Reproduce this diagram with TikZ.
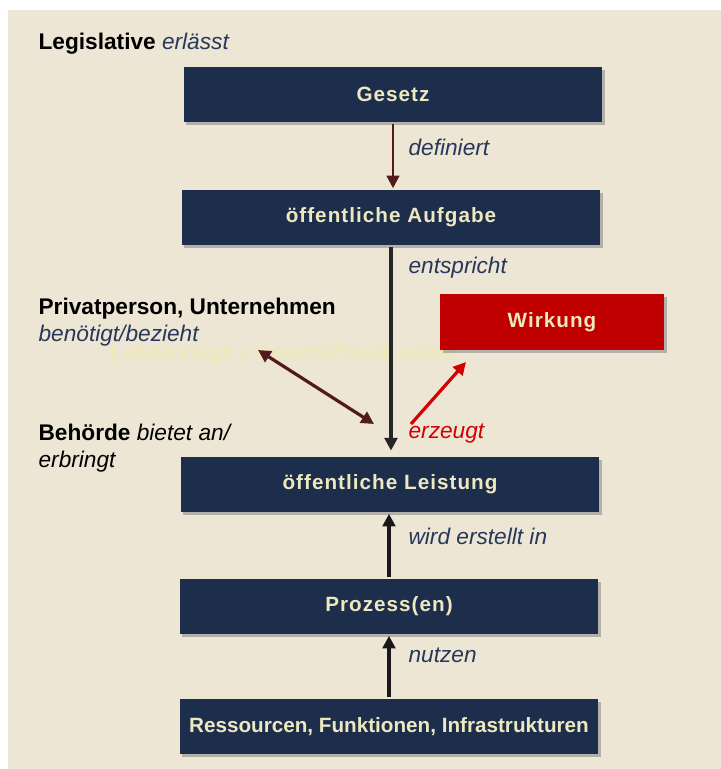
\documentclass[tikz,border=0pt]{standalone}
\usepackage{fontspec}
\setmainfont{Liberation Sans}
\usetikzlibrary{arrows.meta,positioning,shadows}

\definecolor{paper}{RGB}{237,230,213}
\definecolor{navy}{RGB}{29,46,77}
\definecolor{cream}{RGB}{238,232,190}
\definecolor{wirkred}{RGB}{192,0,0}
\definecolor{arrred}{RGB}{210,0,0}
\definecolor{maroon}{RGB}{82,26,26}
\definecolor{inkblue}{RGB}{40,56,90}
\definecolor{faint}{RGB}{237,233,186}

\begin{document}
\begin{tikzpicture}[x=0.75pt,y=-0.75pt,>={Triangle[length=9.5pt,width=9.5pt]},
line width=2.4pt]
\tikzstyle{box}=[fill=navy,text=cream,font=\fontsize{15.5}{18}\selectfont\bfseries\addfontfeature{LetterSpace=5},minimum width=314pt,minimum height=41.5pt,inner sep=0pt,drop shadow={shadow xshift=2pt,shadow yshift=-2pt,fill=black!45,opacity=0.6}]
\tikzstyle{lbl}=[anchor=west,inner sep=0pt,font=\fontsize{17}{20}\selectfont\itshape,text=inkblue]
\tikzstyle{head}=[anchor=west,inner sep=0pt,font=\fontsize{17}{20}\selectfont\bfseries,text=black]

% page and panel
\useasboundingbox (0,0) rectangle (721,769);
\fill[paper] (8,10) rectangle (721,769);

% faint background text
\node[font=\fontsize{17}{20}\selectfont\bfseries,text=faint] (lage) at (284,355) {Lebenslage / Geschäftssituation};

% boxes
\node[box] (gesetz)     at (393,94.5) {Gesetz};
\node[box] (aufgabe)    at (391,217.5) {öffentliche Aufgabe};
\node[box,fill=wirkred,minimum width=168pt,minimum height=42pt] (wirkung) at (552,322) {Wirkung};
\node[box] (leistung)   at (390,484.5) {öffentliche Leistung};
\node[box] (prozess)    at (389,606.5) {Prozess(en)};
\node[box,font=\fontsize{15.5}{18}\selectfont\bfseries] (ressourcen) at (389,726.5) {Ressourcen, Funktionen, Infrastrukturen};

% side texts
\node[head] (legis) at (37,44) {Legislative \textit{\color{inkblue}\mdseries erlässt}};
\node[head] (privat) at (37,309) {Privatperson, Unternehmen};
\node[lbl] (bezieht) at (37,336) {benötigt/bezieht};
\node[head,align=left,font=\fontsize{17}{20.25}\selectfont] (behoerde) at (37,448)
  {\textbf{Behörde} \textit{bietet an/}\\\textit{erbringt}};

% arrow labels
\node[lbl] (definiert) at (407,147) {definiert};
\node[lbl] (entspricht) at (407,268) {entspricht};
\node[lbl,text=arrred] (erzeugt) at (407,434) {erzeugt};
\node[lbl] (erstellt) at (407,536) {wird erstellt in};
\node[lbl] (nutzen) at (407,655) {nutzen};

% free ends
\coordinate (lagept) at (258,350);
\coordinate (kreuz) at (374,424);
\coordinate (erzpt) at (411,424);
\coordinate (wirkpt) at (466,362);

% connectors
\draw[->,maroon,line width=2pt] (gesetz.south) -- (gesetz.south |- aufgabe.north);
\draw[->,black!85] (aufgabe.south) -- ([yshift=3.5pt]aufgabe.south |- leistung.north);
\draw[<->,maroon] (lagept) -- (kreuz);
\draw[->,arrred] (erzpt) -- (wirkpt);
\draw[->,black!90] (prozess.north) -- (prozess.north |- leistung.south);
\draw[->,black!90] (ressourcen.north) -- (ressourcen.north |- prozess.south);
\end{tikzpicture}
\end{document}
